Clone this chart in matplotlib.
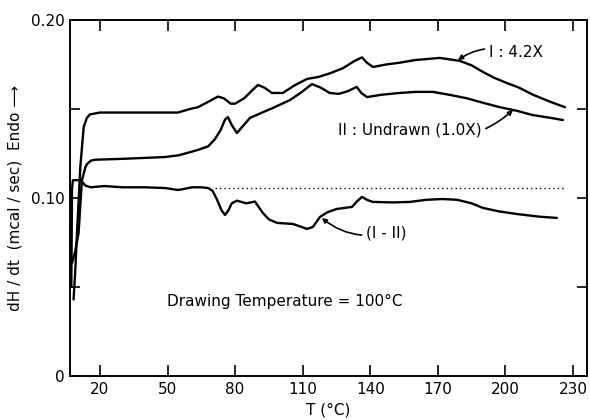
import matplotlib
matplotlib.use("Agg")
import matplotlib.pyplot as plt
import numpy as np

# ---- data ----
T_I = [8.3, 9.0, 9.8, 11.3, 12.8, 14.2, 15.6, 20, 35, 50, 54.6, 60, 63.5, 68, 72.4, 75, 78, 80,
       84, 88, 90.1, 93, 96.3, 101.2, 106, 111.9, 117, 122, 128, 133, 136.3, 138.5, 141.2, 147,
       153, 160, 170.9, 179.8, 185, 190, 195, 200.6, 206, 212.2, 220, 226.4]
Y_I = [0.043, 0.058, 0.080, 0.1176, 0.140, 0.145, 0.147, 0.148, 0.148, 0.148, 0.148, 0.150, 0.151,
       0.154, 0.157, 0.156, 0.153, 0.153, 0.156, 0.161, 0.1635, 0.162, 0.159, 0.159, 0.163, 0.1669,
       0.168, 0.170, 0.173, 0.177, 0.179, 0.176, 0.1736, 0.175, 0.176, 0.1775, 0.1787, 0.177,
       0.1745, 0.1708, 0.1675, 0.1646, 0.162, 0.158, 0.154, 0.151]

T_II = [7.6, 9.0, 10.5, 12, 13.5, 14.2, 16, 17.8, 30, 48.8, 55, 63.5, 68, 71, 73.5, 75.5, 76.8,
        78.5, 80.8, 82.5, 86.6, 92, 96.8, 104.3, 109, 114.1, 118, 122, 126, 130, 134, 136, 138.5,
        145, 153, 160, 167.8, 175, 182.9, 190, 197.5, 205, 212, 220, 225.5]
Y_II = [0.0635, 0.070, 0.080, 0.110, 0.117, 0.119, 0.121, 0.1215, 0.122, 0.123, 0.124, 0.127,
        0.129, 0.133, 0.138, 0.144, 0.1455, 0.141, 0.1365, 0.139, 0.145, 0.148, 0.1506, 0.155,
        0.159, 0.164, 0.162, 0.159, 0.1585, 0.160, 0.1624, 0.159, 0.1567, 0.158, 0.159, 0.1596,
        0.1596, 0.158, 0.156, 0.1535, 0.151, 0.149, 0.1466, 0.145, 0.1438]

T_D = [7.3, 7.6, 8.0, 11.5, 13.5, 16, 20, 22, 30, 40, 48.8, 54.6, 57, 60.8, 65, 68, 70, 72, 74,
       75.5, 77, 78.5, 80.8, 85, 88.8, 92.3, 95, 98.6, 105.7, 110, 111.9, 114.5, 117.6, 121, 125,
       131.9, 134, 136.3, 138.5, 141, 150, 157.6, 165, 172, 178.5, 185, 190, 197, 205, 215, 222.8]
Y_D = [0.050, 0.105, 0.110, 0.110, 0.107, 0.106, 0.1065, 0.1067, 0.106, 0.106, 0.1056, 0.1045,
       0.105, 0.106, 0.106, 0.1056, 0.104, 0.099, 0.093, 0.0905, 0.093, 0.097, 0.0985, 0.097,
       0.098, 0.0916, 0.088, 0.086, 0.0854, 0.0835, 0.0826, 0.0837, 0.0893, 0.092, 0.0938, 0.095,
       0.098, 0.1006, 0.099, 0.0978, 0.0975, 0.0978, 0.099, 0.0994, 0.099, 0.097, 0.0944, 0.0925,
       0.091, 0.0895, 0.0888]

T_BASE = [71, 226]
Y_BASE = [0.1055, 0.1055]

x_ticks = [20, 50, 80, 110, 140, 170, 200, 230]
y_ticks = [0, 0.10, 0.20]
y_tick_labels = ["0", "0.10", "0.20"]
y_minor = [0.05, 0.15]

fig = plt.figure(figsize=(5.9, 4.2), dpi=100)
ax = fig.add_axes([0.1186, 0.1048, 0.8764, 0.8476])

lw = 1.7
for tx, ty in ((T_I, Y_I), (T_II, Y_II), (T_D, Y_D)):
    ax.plot(tx, ty, color="black", lw=lw, solid_joinstyle="round", solid_capstyle="round")
ax.plot(T_BASE, Y_BASE, color="black", lw=1.0, linestyle=(0, (1, 2.2)))

ax.set_xlim(6.7, 236.2)
ax.set_ylim(0, 0.20)

ax.set_xticks(x_ticks)
ax.set_xticklabels([str(v) for v in x_ticks], fontsize=11)
ax.set_yticks(y_ticks)
ax.set_yticklabels(y_tick_labels, fontsize=11)
ax.set_yticks(y_minor, minor=True)
ax.tick_params(axis="both", which="both", direction="in", width=1.2, length=8,
               top=True, right=True, pad=4)
ax.tick_params(axis="y", which="both", length=7)
for s in ax.spines.values():
    s.set_linewidth(1.4)

ax.set_xlabel("T (°C)", fontsize=11, labelpad=4)
ax.set_ylabel("dH / dt  (mcal / sec)  Endo ⟶", fontsize=11, labelpad=6)

# annotations
ax.annotate("I : 4.2X", xy=(178.9, 0.1775), xytext=(192.5, 0.182),
            fontsize=11, va="center", ha="left",
            arrowprops=dict(arrowstyle="-|>", color="black", lw=1.2, mutation_scale=7,
                            shrinkA=1, shrinkB=0, connectionstyle="arc3,rad=0.25"))
ax.annotate("II : Undrawn (1.0X)", xy=(203.3, 0.1494), xytext=(189.5, 0.138),
            fontsize=11, va="center", ha="right",
            arrowprops=dict(arrowstyle="-|>", color="black", lw=1.2, mutation_scale=7,
                            shrinkA=1, shrinkB=0, connectionstyle="arc3,rad=0.3"))
ax.annotate("(I - II)", xy=(118.5, 0.0888), xytext=(138.0, 0.0803),
            fontsize=11, va="center", ha="left",
            arrowprops=dict(arrowstyle="-|>", color="black", lw=1.2, mutation_scale=7,
                            shrinkA=1, shrinkB=0, connectionstyle="arc3,rad=-0.25"))
ax.text(102, 0.0416, "Drawing Temperature = 100°C", fontsize=11, ha="center", va="center")

fig.savefig("out.png", dpi=100)
